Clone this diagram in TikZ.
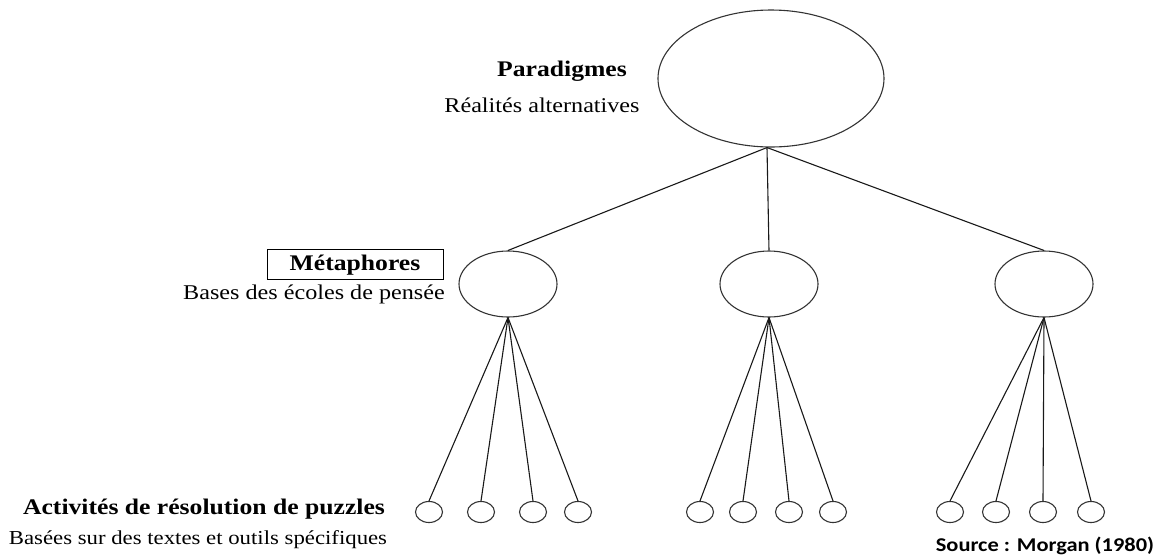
\documentclass[tikz,border=0pt]{standalone}
\usepackage{fontspec}
\setmainfont[FakeStretch=1.15]{Liberation Serif}
\newfontfamily\srcfont[FakeStretch=1.15]{Carlito}
\usetikzlibrary{shapes.geometric}
\tikzset{
  ell/.style={ellipse, draw=black!80, line width=1.1pt, inner sep=0pt},
  bigell/.style={ell, minimum width=226pt, minimum height=137pt},
  midell/.style={ell, minimum width=98pt, minimum height=66pt},
  leaf/.style={ell, minimum width=27pt, minimum height=21pt},
  conn/.style={draw=black!90, line width=1.1pt},
  lbl/.style={inner sep=0pt, font=\fontsize{21}{24}\selectfont},
  blbl/.style={inner sep=0pt, font=\fontsize{22.3}{25}\selectfont\bfseries},
}
\begin{document}
\begin{tikzpicture}[x=1pt,y=-1pt]
\useasboundingbox (0,0) rectangle (1163,558);
% ellipses
\node[bigell] (P) at (771,78.5) {};
\node[midell] (M1) at (508,284) {};
\node[midell] (M2) at (769,284) {};
\node[midell] (M3) at (1044,284) {};
% leaves
\foreach \i/\x in {1/429,2/481,3/533,4/578}{\node[leaf] (a\i) at (\x,512) {};}
\foreach \i/\x in {1/700,2/743,3/789,4/833}{\node[leaf] (b\i) at (\x,512) {};}
\foreach \i/\x in {1/950,2/996,3/1043,4/1091}{\node[leaf] (c\i) at (\x,512) {};}
% connectors
\coordinate (Pb) at ([xshift=-4pt]P.south);
\draw[conn] (Pb) -- (M1.north);
\draw[conn] (Pb) -- (M2.north);
\draw[conn] (Pb) -- (M3.north);
\foreach \i in {1,...,4}{
  \draw[conn] (M1.south) -- (a\i.north);
  \draw[conn] (M2.south) -- (b\i.north);
  \draw[conn] (M3.south) -- (c\i.north);
}
% labels
\node[blbl] (t1) at (562,71) {Paradigmes};
\node[lbl] (t2) at (542,105) {Réalités alternatives};
\node[draw=black, line width=1pt, minimum width=176pt, minimum height=30pt, inner sep=0pt] (mbox) at (355,264) {};
\node[blbl] (t3) at (355,265) {Métaphores};
\node[lbl] (t4) at (314,294) {Bases des écoles de pensée};
\node[blbl] (t5) at (204,509) {Activités de résolution de puzzles};
\node[inner sep=0pt, font=\fontsize{19.8}{23}\selectfont] (t6) at (198,540) {Basées sur des textes et outils spécifiques};
\node[inner sep=0pt, font=\srcfont\fontsize{19.5}{22}\selectfont\bfseries] (src) at (1045,546) {Source : Morgan (1980)};
\end{tikzpicture}
\end{document}
